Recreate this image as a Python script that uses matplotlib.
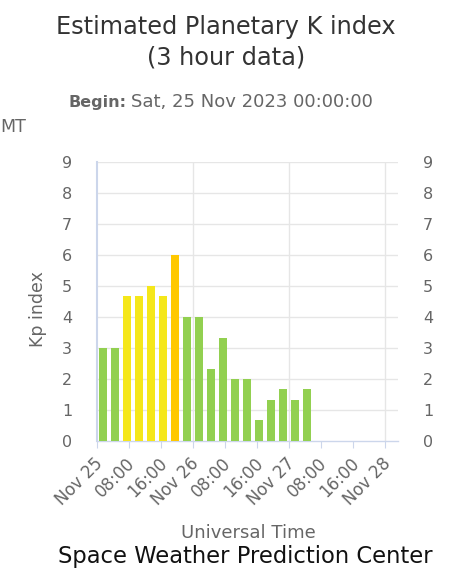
import matplotlib
matplotlib.use("Agg")
import matplotlib.pyplot as plt
import matplotlib.transforms as mtransforms
import numpy as np

# Data
start_hours = np.arange(0, 54, 3)  # hours since 2023-11-25 00:00 UTC
kp_values = [3.0, 3.0, 4.67, 4.67, 5.0, 4.67, 6.0, 4.0, 4.0, 2.33,
             3.33, 2.0, 2.0, 0.67, 1.33, 1.67, 1.33, 1.67]
tick_hours = list(range(0, 73, 8))
tick_labels = ["Nov 25", "08:00", "16:00", "Nov 26", "08:00", "16:00",
               "Nov 27", "08:00", "16:00", "Nov 28"]
y_ticks = list(range(0, 10))

def kp_color(v):
    r = round(v)
    if r >= 6:
        return "#FFC800"
    if r >= 5:
        return "#F5E71A"
    return "#92D050"

plt.rcParams['font.family'] = ['DejaVu Sans']
W, H = 450, 574
fig = plt.figure(figsize=(W / 100, H / 100), dpi=100)
fig.patch.set_facecolor("white")

x0, x1 = 97, 398
y0, y1 = 162, 441
ax = fig.add_axes([x0 / W, 1 - y1 / H, (x1 - x0) / W, (y1 - y0) / H])

ax.bar([h + 1.5 for h in start_hours], kp_values, width=1.95,
       color=[kp_color(v) for v in kp_values], zorder=3, linewidth=0)

ax.set_xlim(0, 75.25)
ax.set_ylim(0, 9)

# grid
for yv in y_ticks[1:]:
    ax.axhline(yv, color="#e6e6e6", lw=1, zorder=1)
for xv in [24, 48, 72]:
    ax.axvline(xv, color="#e6e6e6", lw=1, zorder=1)

for s in ["top", "right"]:
    ax.spines[s].set_visible(False)
ax.spines["left"].set_color("#ccd6eb")
ax.spines["left"].set_linewidth(1.5)
ax.spines["bottom"].set_color("#ccd6eb")
ax.spines["bottom"].set_linewidth(1)

ax.set_xticks(tick_hours)
ax.set_xticklabels(tick_labels, rotation=45, ha="right", va="center",
                   rotation_mode="anchor", fontsize=12, color="#666666")
ax.tick_params(axis="x", length=5, color="#ccd6eb", pad=9)
offset = mtransforms.ScaledTranslation(3 / 100, 0, fig.dpi_scale_trans)
for lab in ax.get_xticklabels():
    lab.set_transform(lab.get_transform() + offset)

ax.set_yticks(y_ticks)
ax.set_yticklabels([str(v) for v in y_ticks], fontsize=11.5, color="#666666")
ax.tick_params(axis="y", length=0, pad=18)

ax2 = ax.twinx()
ax2.set_ylim(0, 9)
ax2.set_yticks(y_ticks)
ax2.set_yticklabels([str(v) for v in y_ticks], fontsize=11.5, color="#666666")
ax2.tick_params(axis="y", length=0, pad=18)
for s in ["top", "right", "left", "bottom"]:
    ax2.spines[s].set_visible(False)

def fx(px):
    return px / W

def fy(py):
    return 1 - py / H

fig.text(fx(38), fy(309), "Kp index", rotation=90, ha="center", va="center",
         fontsize=12.5, color="#666666")

fig.text(fx(226), fy(27), "Estimated Planetary K index", ha="center", va="center",
         fontsize=17.3, color="#333333")
fig.text(fx(226), fy(58), "(3 hour data)", ha="center", va="center",
         fontsize=17.3, color="#333333")

fig.text(fx(68), fy(102), "Begin:", ha="left", va="center", fontsize=11.5,
         color="#666666", fontweight="bold")
fig.text(fx(131), fy(102), "Sat, 25 Nov 2023 00:00:00", ha="left", va="center",
         fontsize=13, color="#666666")
fig.text(fx(0), fy(127), "MT", ha="left", va="center", fontsize=12.5,
         color="#666666")

fig.text(fx(248), fy(533), "Universal Time", ha="center", va="center",
         fontsize=13, color="#666666")
fig.text(fx(245.5), fy(557), "Space Weather Prediction Center", ha="center",
         va="center", fontsize=16.3, color="#111111")

fig.savefig("out.png", dpi=100, facecolor="white")
